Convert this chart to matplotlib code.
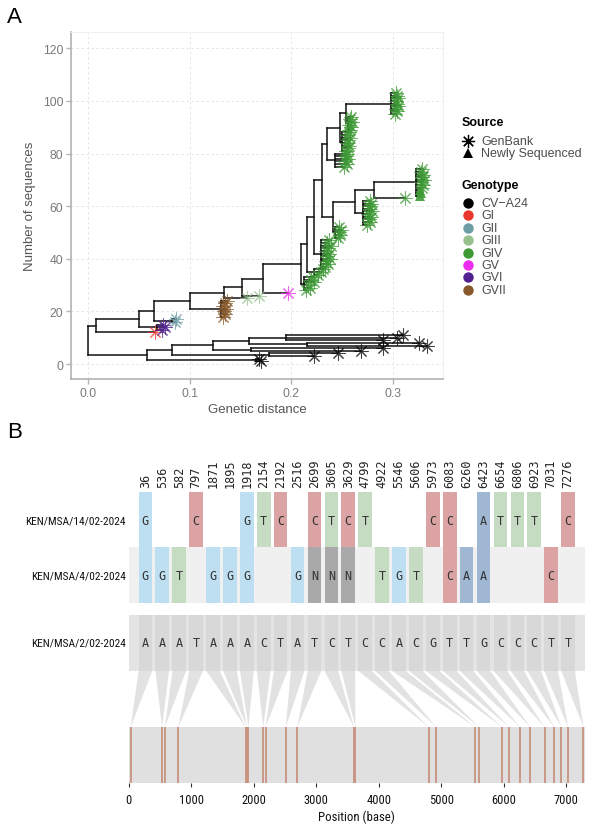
import matplotlib
matplotlib.use("Agg")
import matplotlib.pyplot as plt
from matplotlib import font_manager
from matplotlib.patches import Rectangle, Polygon
from matplotlib.collections import LineCollection

# ---------------- fonts ----------------
_avail = {f.name for f in font_manager.fontManager.ttflist}
def pick(*names):
    for n in names:
        if n in _avail:
            return n
    return "DejaVu Sans"
SANS = pick("Liberation Sans", "Arimo", "DejaVu Sans")
NARROW = pick("Liberation Sans Narrow", "Roboto Condensed", "Open Sans Condensed", "DejaVu Sans")
NARROW_SCALE = 1.0 if NARROW != "DejaVu Sans" else 0.78
MONO = pick("DejaVu Sans Mono", "Liberation Mono")

# ---------------- panel A data (tree) ----------------
node_names = ["root", "C0", "C1", "C2", "C3", "C4", "C5", "C6", "C7", "C8",
              "E", "E1", "N_GVI", "E3", "N_GII", "E4", "N_GVII", "N134", "N151", "N172",
              "G0", "iv_a", "G1", "iv_b", "G2", "iv_c", "G3", "G4", "iv_d", "G6",
              "iv_e", "G7", "iv_f", "G5", "iv_g1", "G8", "iv_g2", "G9", "iv_g3", "iv_h"]
node_parent = [None, "root", "C0", "C0", "C2", "C2", "C4", "C4", "C6", "C6",
               "root", "E", "E1", "E1", "E3", "E3", "E4", "E4", "N134", "N151",
               "N172", "G0", "G0", "G1", "G1", "G2", "G2", "G3", "G4", "G4",
               "G6", "G6", "G7", "G3", "G5", "G5", "G8", "G8", "G9", "G9"]
node_x = [0.0, 0.058, 0.165, 0.083, 0.178, 0.123, 0.160, 0.158, 0.215, 0.195,
          0.0075, 0.050, 0.068, 0.065, 0.083, 0.100, 0.131, 0.134, 0.151, 0.172,
          0.209, 0.212, 0.215, 0.222, 0.222, 0.229, 0.230, 0.241, 0.243, 0.262,
          0.270, 0.281, 0.322, 0.235, 0.243, 0.248, 0.250, 0.254, 0.256, 0.298]

# tips, listed in bottom-to-top order, grouped by parent node
group_parent = ["C1", "C3", "C5", "C7", "C8", "E", "N_GVI", "N_GII", "N_GVII",
                "N134", "N151", "N172", "iv_a", "iv_b", "iv_c", "iv_d", "iv_e",
                "G7", "iv_f", "iv_g1", "iv_g2", "iv_g3", "iv_h"]
group_genotype = ["CV-A24", "CV-A24", "CV-A24", "CV-A24", "CV-A24", "GI", "GVI", "GII", "GVII",
                  "GIII", "GIII", "GV", "GIV", "GIV", "GIV", "GIV", "GIV",
                  "GIV", "GIV", "GIV", "GIV", "GIV", "GIV"]
group_tip_x = [
    [0.170, 0.168],
    [0.222, 0.246],
    [0.268, 0.290],
    [0.333, 0.325],
    [0.290, 0.304, 0.310],
    [0.066],
    [0.073, 0.076, 0.074],
    [0.086, 0.087],
    [0.133, 0.135, 0.134, 0.136, 0.133, 0.135, 0.137],
    [0.156],
    [0.168],
    [0.197],
    [0.214, 0.218, 0.216, 0.222, 0.219, 0.221],
    [0.226, 0.229, 0.231],
    [0.233, 0.236, 0.234, 0.238, 0.235, 0.237, 0.234, 0.236, 0.239, 0.235, 0.237],
    [0.246, 0.248, 0.247, 0.249, 0.247],
    [0.274, 0.277, 0.276, 0.278, 0.275, 0.279, 0.277, 0.276, 0.278, 0.277],
    [0.312],
    [0.326, 0.327, 0.326, 0.328, 0.329, 0.327, 0.330, 0.328, 0.329, 0.327, 0.328],
    [0.252, 0.255, 0.253, 0.256, 0.254, 0.255],
    [0.254, 0.256, 0.257, 0.255, 0.256, 0.258, 0.255, 0.257],
    [0.258, 0.259, 0.257, 0.260, 0.258, 0.259],
    [0.302, 0.304, 0.303, 0.305, 0.304, 0.303, 0.305, 0.304, 0.303],
]
group_newly_sequenced = [0] * 18 + [3] + [0] * 4

genotypes = ["CV-A24", "GI", "GII", "GIII", "GIV", "GV", "GVI", "GVII"]
genotype_colors = ["#000000", "#e8372c", "#6d9ea5", "#97c28f", "#3d9a35",
                   "#ee2cf0", "#52218f", "#87592a"]
sources = ["GenBank", "Newly Sequenced"]

# ---------------- panel B data (SNPs) ----------------
snp_positions = [36, 536, 582, 797, 1871, 1895, 1918, 2154, 2192, 2516, 2699, 3605, 3629,
                 4799, 4922, 5546, 5606, 5973, 6083, 6260, 6423, 6654, 6806, 6923, 7031, 7276]
query_names = ["KEN/MSA/14/02-2024", "KEN/MSA/4/02-2024"]
query_snps = ["G..C..GTC.CTCT...CC.ATTT.C",
              "GGT.GGG..GNNN.TGT.CAA...C."]
reference_name = "KEN/MSA/2/02-2024"
reference_bases = "AAATAAACTATCTCCACGTTGCCCTT"
genome_length = 7300
base_colors = {"A": "#9fb7d3", "C": "#dba3a3", "G": "#bddff1", "T": "#c5dcc3", "N": "#a9a9a9"}

# ---------------- figure ----------------
W, H, DPI = 593, 829, 100
fig = plt.figure(figsize=(W / DPI, H / DPI), dpi=DPI)

def box(l, t, r, b):
    return [l / W, 1 - b / H, (r - l) / W, (b - t) / H]

# ===== Panel A =====
axA = fig.add_axes(box(71, 33, 443, 380))
axA.set_xlim(-0.0167, 0.349)
axA.set_ylim(-5.7, 126.2)

tips = []
y = 1
for parent, geno, xs, nnew in zip(group_parent, group_genotype, group_tip_x, group_newly_sequenced):
    for k, x in enumerate(xs):
        tips.append(dict(parent=parent, x=x, y=y, geno=geno,
                         source=sources[1] if k < nnew else sources[0]))
        y += 1

nx = dict(zip(node_names, node_x))
children = {n: [] for n in node_names}
for t in tips:
    children[t["parent"]].append(("tip", t))
for n, p in zip(node_names, node_parent):
    if p is not None:
        children[p].append(("node", n))

node_y = {}
def get_y(n):
    if n in node_y:
        return node_y[n]
    ys = [c[1]["y"] if c[0] == "tip" else get_y(c[1]) for c in children[n]]
    node_y[n] = (min(ys) + max(ys)) / 2
    return node_y[n]
for n in node_names:
    get_y(n)

segs = []
for n in node_names:
    cy = []
    for kind, c in children[n]:
        if kind == "tip":
            yy, xx = c["y"], c["x"]
        else:
            yy, xx = node_y[c], nx[c]
        cy.append(yy)
        segs.append([(nx[n], yy), (xx, yy)])
    segs.append([(nx[n], min(cy)), (nx[n], max(cy))])
axA.add_collection(LineCollection(segs, colors="#111111", linewidths=1.1,
                                  capstyle="projecting", zorder=3))

for g, col in zip(genotypes, genotype_colors):
    gx = [t["x"] for t in tips if t["geno"] == g and t["source"] == "GenBank"]
    gy = [t["y"] for t in tips if t["geno"] == g and t["source"] == "GenBank"]
    axA.plot(gx, gy, ls="none", marker=(8, 2, 0), ms=10, mew=0.75, color=col,
             alpha=0.75, zorder=4)
    nxs = [t["x"] for t in tips if t["geno"] == g and t["source"] != "GenBank"]
    nys = [t["y"] for t in tips if t["geno"] == g and t["source"] != "GenBank"]
    if nxs:
        axA.plot(nxs, nys, ls="none", marker="^", ms=7.5, mew=0, color=col,
                 alpha=0.9, zorder=4)

axA.set_xticks([0.0, 0.1, 0.2, 0.3])
axA.set_xticklabels(["0.0", "0.1", "0.2", "0.3"])
axA.set_yticks([0, 20, 40, 60, 80, 100, 120])
axA.grid(True, ls=(0, (3, 3)), color="#e2e2e2", lw=0.6)
axA.set_axisbelow(True)
for s in ["left", "bottom"]:
    axA.spines[s].set_color("#b3b3b3")
    axA.spines[s].set_linewidth(1.2)
for s in ["top", "right"]:
    axA.spines[s].set_color("#f0f0f0")
    axA.spines[s].set_linewidth(0.8)
axA.tick_params(colors="#b3b3b3", length=3.5, width=1.0, labelcolor="#7a7a7a",
                labelsize=8.8, pad=2)
for lab in axA.get_xticklabels() + axA.get_yticklabels():
    lab.set_family(SANS)
axA.set_xlabel("Genetic distance", family=SANS, fontsize=9.5, color="#555555", labelpad=3)
axA.set_ylabel("Number of sequences", family=SANS, fontsize=9.5, color="#555555", labelpad=5)

# ===== Panel B =====
x0px, x1px = 128.5, 585
axB = fig.add_axes(box(x0px, 440, x1px, 784))
axB.set_xlim(0, genome_length)
axB.set_ylim(784, 440)
bp_per_px = genome_length / (x1px - x0px)

ncol = len(snp_positions)
col_step = genome_length / (ncol + 1)
col_w = 0.807 * col_step
col_c = [(i + 1) * col_step for i in range(ncol)]

row_tops = [492.7, 548.2]
row_h = 55.5
ref_top, ref_h = 616.0, 56.0
band_top, band_bot = 728.0, 784.0

axB.add_patch(Rectangle((0, row_tops[1]), genome_length, row_h, color="#f0f0f0", lw=0, zorder=1))
axB.add_patch(Rectangle((0, ref_top), genome_length, ref_h, color="#e4e4e4", lw=0, zorder=1))

for r, (name, snps) in enumerate(zip(query_names, query_snps)):
    top = row_tops[r]
    cy = top + row_h / 2
    for i, b in enumerate(snps):
        if b == ".":
            continue
        axB.add_patch(Rectangle((col_c[i] - col_w / 2, top), col_w, row_h,
                                color=base_colors[b], lw=0, zorder=2))
        axB.text(col_c[i], cy + 1, b, ha="center", va="center", family=MONO,
                 fontsize=8.5, color="#333333", zorder=3)
    axB.text(-2.5 * bp_per_px, cy + 1, name, ha="right", va="center", family=NARROW,
             fontsize=8.2 * NARROW_SCALE, color="#111111", clip_on=False)

ref_cy = ref_top + ref_h / 2
for i, b in enumerate(reference_bases):
    axB.add_patch(Rectangle((col_c[i] - col_w / 2, ref_top), col_w, ref_h,
                            color="#d8d8d8", lw=0, zorder=2))
    axB.text(col_c[i], ref_cy, b, ha="center", va="center", family=MONO,
             fontsize=8.5, color="#333333", zorder=3)
axB.text(-2.5 * bp_per_px, ref_cy, reference_name, ha="right", va="center", family=NARROW,
         fontsize=8.2 * NARROW_SCALE, color="#111111", clip_on=False)

for i, pos in enumerate(snp_positions):
    axB.text(col_c[i], 488, str(pos), rotation=90, ha="center", va="bottom",
             family=MONO, fontsize=8.5, color="#222222", clip_on=False)
    axB.add_patch(Polygon([(col_c[i] - col_w / 2, ref_top + ref_h),
                           (col_c[i] + col_w / 2, ref_top + ref_h),
                           (pos, band_top)], closed=True, color="#e2e2e2", lw=0, zorder=1))

axB.add_patch(Rectangle((0, band_top), genome_length, band_bot - band_top,
                        color="#e0e0e0", lw=0, zorder=1))
axB.vlines(snp_positions, band_top, band_bot, colors="#c8937f", lw=1.3, zorder=2)

for s in axB.spines.values():
    s.set_visible(False)
axB.set_yticks([])
axB.set_xticks(range(0, 7001, 1000))
axB.tick_params(axis="x", length=3, width=0.8, color="#333333", labelsize=9 * NARROW_SCALE,
                pad=4, labelcolor="#111111")
for lab in axB.get_xticklabels():
    lab.set_family(NARROW)
axB.set_xlabel("Position (base)", family=NARROW, fontsize=9.2 * NARROW_SCALE,
               color="#111111", labelpad=3)

# ===== overlay: panel letters and legend =====
ov = fig.add_axes([0, 0, 1, 1], zorder=10)
ov.set_xlim(0, W)
ov.set_ylim(H, 0)
ov.axis("off")
ov.patch.set_alpha(0)

ov.text(7, 17, "A", fontsize=16, family=SANS, ha="left", va="center")
ov.text(7, 433, "B", fontsize=16, family=SANS, ha="left", va="center")

ov.text(462, 123, "Source", fontsize=9, family=SANS, weight="bold", va="center", ha="left")
src_markers = [(8, 2, 0), "^"]
for k, (s, m) in enumerate(zip(sources, src_markers)):
    yy = 142 + k * 11.5
    ov.plot([468], [yy], ls="none", marker=m, ms=9.5 if k == 0 else 7.5,
            mew=0.9 if k == 0 else 0, color="#000000")
    ov.text(481, yy, s, fontsize=9, family=SANS, color="#4d4d4d", va="center", ha="left")

ov.text(462, 186, "Genotype", fontsize=9, family=SANS, weight="bold", va="center", ha="left")
for k, (g, c) in enumerate(zip(genotypes, genotype_colors)):
    yy = 204 + k * 12.4
    ov.plot([468], [yy], ls="none", marker="o", ms=7.5, mew=0, color=c)
    ov.text(481, yy, g.replace("-", "\u2212"), fontsize=9, family=SANS, color="#4d4d4d",
            va="center", ha="left")

fig.savefig("out.png", dpi=DPI)
